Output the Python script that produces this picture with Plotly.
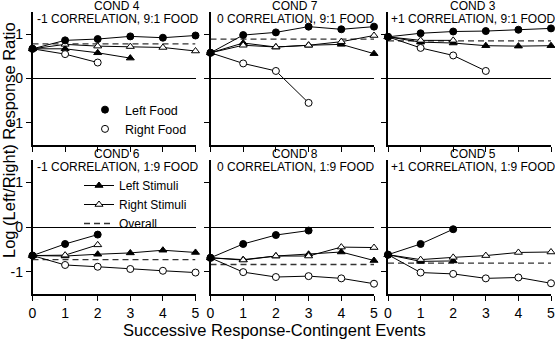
import plotly.graph_objects as go

W, H = 555, 340
FONT = "Liberation Sans, Arial, sans-serif"

x_events = [0, 1, 2, 3, 4, 5]
x_tick_labels = ["0", "1", "2", "3", "4", "5"]
y_tick_vals = [-1, 0, 1]
y_tick_labels = ["-1", "0", "1"]

panel_titles = ["COND 4", "COND 7", "COND 3", "COND 6", "COND 8", "COND 5"]
panel_subtitles = [
    "-1 CORRELATION, 9:1 FOOD",
    "0 CORRELATION, 9:1 FOOD",
    "+1 CORRELATION, 9:1 FOOD",
    "-1 CORRELATION, 1:9 FOOD",
    "0 CORRELATION, 1:9 FOOD",
    "+1 CORRELATION, 1:9 FOOD",
]

# Left Food (filled circles)
left_food = [
    [0.67, 0.86, 0.89, 0.95, 0.92, 0.97],
    [0.58, 0.98, 1.04, 1.17, 1.11, 1.17],
    [0.94, 1.02, 1.06, 1.07, 1.10, 1.13],
    [-0.64, -0.38, -0.17],
    [-0.69, -0.38, -0.18, -0.08],
    [-0.62, -0.38, -0.05],
]
# Right Food (open circles)
right_food = [
    [0.67, 0.55, 0.36],
    [0.58, 0.34, 0.17, -0.55],
    [0.94, 0.69, 0.52, 0.17],
    [-0.64, -0.85, -0.89, -0.94, -0.98, -1.02],
    [-0.69, -1.01, -1.12, -1.10, -1.15, -1.27],
    [-0.62, -1.02, -1.05, -1.15, -1.13, -1.26],
]
# Left Stimuli (filled triangles)
left_stim = [
    [0.67, 0.67, 0.58, 0.46],
    [0.58, 0.80, 0.71, 0.75, 0.77, 0.56],
    [0.94, 0.82, 0.80, 0.74, 0.73, 0.74],
    [-0.64, -0.65, -0.61, -0.58, -0.52, -0.57],
    [-0.69, -0.73, -0.65, -0.61, -0.56, -0.75],
    [-0.62, -0.77, -0.76],
]
# Right Stimuli (open triangles)
right_stim = [
    [0.67, 0.77, 0.73, 0.72, 0.70, 0.62],
    [0.58, 0.75, 0.71, 0.75, 0.83, 0.97],
    [0.94, 0.86, 0.86],
    [-0.64, -0.63, -0.40],
    [-0.69, -0.74, -0.65, -0.65, -0.45, -0.46],
    [-0.62, -0.73, -0.68, -0.64, -0.57, -0.56],
]
# Overall (dashed)
overall = [0.78, 0.89, 0.85, -0.73, -0.84, -0.81]

# panel pixel geometry (left, right, top, bottom)
col_px = [(32.5, 195.5), (210.5, 374.0), (388.0, 551.0)]
row_px = [(12.0, 145.0), (160.0, 294.0)]

fig = go.Figure()
layout = dict(
    width=W, height=H,
    margin=dict(l=0, r=0, t=0, b=0),
    paper_bgcolor="white", plot_bgcolor="white",
    font=dict(family=FONT, color="black", size=14),
    showlegend=True,
)

annotations = []
line_style = dict(color="black", width=1)

for i in range(6):
    r, c = divmod(i, 3)
    n = i + 1
    xa = "x" if n == 1 else f"x{n}"
    ya = "y" if n == 1 else f"y{n}"
    xl, xr = col_px[c]
    yt, yb = row_px[r]
    layout["xaxis" if n == 1 else f"xaxis{n}"] = dict(
        domain=[xl / W, xr / W], range=[0, 5], anchor=ya,
        showline=True, linecolor="black", linewidth=1.5,
        ticks="outside", ticklen=5, tickwidth=1.2, tickcolor="black",
        tickvals=x_events, ticktext=x_tick_labels,
        showticklabels=(r == 1), showgrid=False, zeroline=False,
        automargin=False, tickfont=dict(size=14), ticklabeloverflow="allow",
    )
    layout["yaxis" if n == 1 else f"yaxis{n}"] = dict(
        domain=[(H - yb) / H, (H - yt) / H], range=[-1.5, 1.5], anchor=xa,
        showline=True, linecolor="black", linewidth=1.5,
        ticks="outside", ticklen=5, tickwidth=1.2, tickcolor="black",
        tickvals=y_tick_vals, ticktext=y_tick_labels,
        showticklabels=(c == 0), showgrid=False,
        zeroline=True, zerolinecolor="black", zerolinewidth=1,
        automargin=False, tickfont=dict(size=14), ticklabeloverflow="allow",
    )

    def add(ys, sym, fill):
        fig.add_trace(go.Scatter(
            x=x_events[:len(ys)], y=ys, xaxis=xa, yaxis=ya,
            mode="lines+markers", line=line_style, cliponaxis=False,
            marker=dict(symbol=sym, size=7,
                        color=fill, line=dict(color="black", width=1)),
            showlegend=False,
        ))

    fig.add_trace(go.Scatter(
        x=[0, 5], y=[overall[i], overall[i]], xaxis=xa, yaxis=ya,
        mode="lines", line=dict(color="#333", width=1.3, dash="6px,4px"),
        showlegend=False, cliponaxis=False,
    ))
    add(left_stim[i], "triangle-up", "black")
    add(right_stim[i], "triangle-up", "white")
    add(right_food[i], "circle", "white")
    add(left_food[i], "circle", "black")

    cx = (xl + xr) / 2 + 3
    annotations.append(dict(text=panel_titles[i], x=cx / W, y=(H - (yt - 6)) / H,
                            xref="paper", yref="paper", showarrow=False,
                            xanchor="center", yanchor="middle", font=dict(size=12)))
    annotations.append(dict(text=panel_subtitles[i], x=cx / W, y=(H - (yt + 6.5)) / H,
                            xref="paper", yref="paper", showarrow=False,
                            xanchor="center", yanchor="middle", font=dict(size=12)))

# legend entries
legend_food = [("Left Food", "black"), ("Right Food", "white")]
for name, fill in legend_food:
    fig.add_trace(go.Scatter(
        x=[None], y=[None], mode="markers", name=name, legend="legend",
        marker=dict(symbol="circle", size=7, color=fill, line=dict(color="black", width=1)),
    ))
legend_stim = [("Left Stimuli", "black"), ("Right Stimuli", "white")]
for name, fill in legend_stim:
    fig.add_trace(go.Scatter(
        x=[None], y=[None], mode="lines+markers", name=name, legend="legend2",
        line=line_style,
        marker=dict(symbol="triangle-up", size=7, color=fill, line=dict(color="black", width=1)),
    ))
fig.add_trace(go.Scatter(
    x=[None], y=[None], mode="lines", name="Overall", legend="legend2",
    line=dict(color="#333", width=1.3, dash="6px,4px"),
))

layout["legend"] = dict(x=85 / W, y=(H - 95) / H, xanchor="left", yanchor="top",
                        bgcolor="rgba(0,0,0,0)", font=dict(size=12.5),
                        tracegroupgap=0, itemwidth=30)
layout["legend2"] = dict(x=79 / W, y=(H - 171) / H, xanchor="left", yanchor="top",
                         bgcolor="rgba(0,0,0,0)", font=dict(size=12),
                         tracegroupgap=0, itemwidth=30)

annotations.append(dict(text="Successive Response-Contingent Events", x=274 / W, y=(H - 329.5) / H,
                        xref="paper", yref="paper", showarrow=False,
                        xanchor="center", yanchor="middle", font=dict(size=16.5)))
annotations.append(dict(text="Log (Left/Right) Response Ratio", x=9 / W, y=(H - 140) / H,
                        xref="paper", yref="paper", showarrow=False, textangle=-90,
                        xanchor="center", yanchor="middle", font=dict(size=16.5)))

layout["annotations"] = annotations
fig.update_layout(**layout)
fig.write_html("out.html", post_script="document.body.style.margin='0';",
               config={"displayModeBar": False})
